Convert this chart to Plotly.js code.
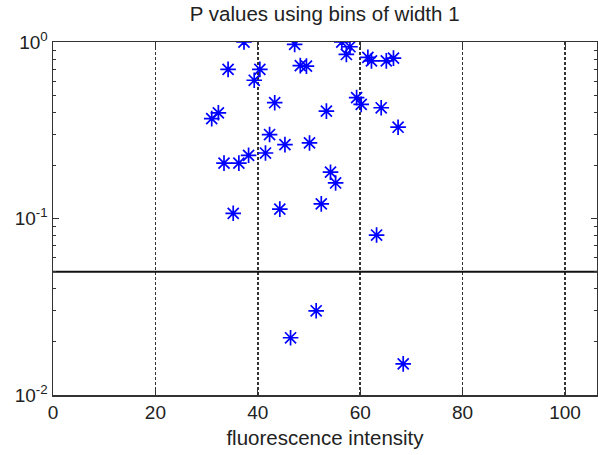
<!DOCTYPE html>
<html>
<head>
<meta charset="utf-8">
<script src="https://cdn.plot.ly/plotly-3.0.1.min.js"></script>
<style>html,body{margin:0;padding:0;background:#fff;}#chart{width:598px;height:455px;}</style>
</head>
<body>
<div id="chart"></div>
<script>
// fluorescence intensity (bin centre) of each tested bin
var intensity = [37.3, 47.2, 56.4, 58.0, 57.3, 34.2, 40.4, 39.3, 48.3, 49.5,
                 61.5, 62.2, 65.1, 66.5, 43.3, 32.3, 31.0, 59.3, 60.2, 64.1,
                 67.4, 53.4, 42.3, 45.3, 41.5, 38.2, 36.3, 33.4, 50.1, 54.2,
                 55.2, 35.2, 44.3, 52.4, 63.2, 51.4, 46.4, 68.4];
// P value for each bin
var pValue = [1.00, 0.97, 1.00, 0.94, 0.85, 0.70, 0.70, 0.607, 0.735, 0.73,
              0.818, 0.782, 0.782, 0.81, 0.453, 0.397, 0.368, 0.484, 0.443, 0.424,
              0.329, 0.406, 0.299, 0.262, 0.235, 0.228, 0.206, 0.206, 0.268, 0.183,
              0.159, 0.107, 0.113, 0.121, 0.0806, 0.0300, 0.0211, 0.0150];
var threshold = 0.05;
var xRange = [0, 106.25];
var yTickVals = [0.01, 0.1, 1];
var yTickText = ['10<sup>-2</sup>', '10<sup>-1</sup>', '10<sup>0</sup>'];
var xTickVals = [0, 20, 40, 60, 80, 100];

var fontFam = 'Liberation Sans, Arial, sans-serif';
var traces = [
  {
    x: xRange, y: [threshold, threshold], mode: 'lines', type: 'scatter',
    line: {color: '#111', width: 2}, hoverinfo: 'skip', showlegend: false
  },
  {
    x: intensity, y: pValue, mode: 'markers', type: 'scatter',
    marker: {symbol: 'asterisk-open', size: 13, color: '#0000ff',
             line: {color: '#0000ff', width: 1.7}},
    showlegend: false
  }
];
var layout = {
  width: 598, height: 455,
  margin: {l: 53, r: 1, t: 42, b: 60},
  paper_bgcolor: '#fff', plot_bgcolor: '#fff',
  font: {family: fontFam, size: 19, color: '#222'},
  title: {text: 'P values using bins of width 1', x: 0.543, xanchor: 'center',
          y: 0.985, yanchor: 'top', font: {family: fontFam, size: 20.5, color: '#222'}},
  xaxis: {
    range: xRange, tickmode: 'array', tickvals: xTickVals,
    showgrid: true, gridcolor: '#333', griddash: '3px,2px', gridwidth: 1.6,
    zeroline: false, showline: true, linecolor: '#333', linewidth: 1.5, mirror: 'ticks',
    ticks: 'inside', ticklen: 5, tickcolor: '#333',
    tickfont: {size: 19, color: '#222'},
    title: {text: 'fluorescence intensity', font: {size: 20.5, color: '#222'}, standoff: 8}
  },
  yaxis: {
    type: 'log', range: [-2, 0], tickmode: 'array', tickvals: yTickVals, ticktext: yTickText,
    showgrid: false, zeroline: false, showline: true, linecolor: '#333', linewidth: 1.5, mirror: 'ticks',
    ticks: 'inside', ticklen: 6, tickcolor: '#333',
    tickfont: {size: 19, color: '#222'},
    minor: {tickmode: 'linear', dtick: 'D1', ticks: 'inside', ticklen: 3, tickcolor: '#333', showgrid: false}
  }
};
Plotly.newPlot('chart', traces, layout, {displayModeBar: false, staticPlot: true});
</script>
</body>
</html>
